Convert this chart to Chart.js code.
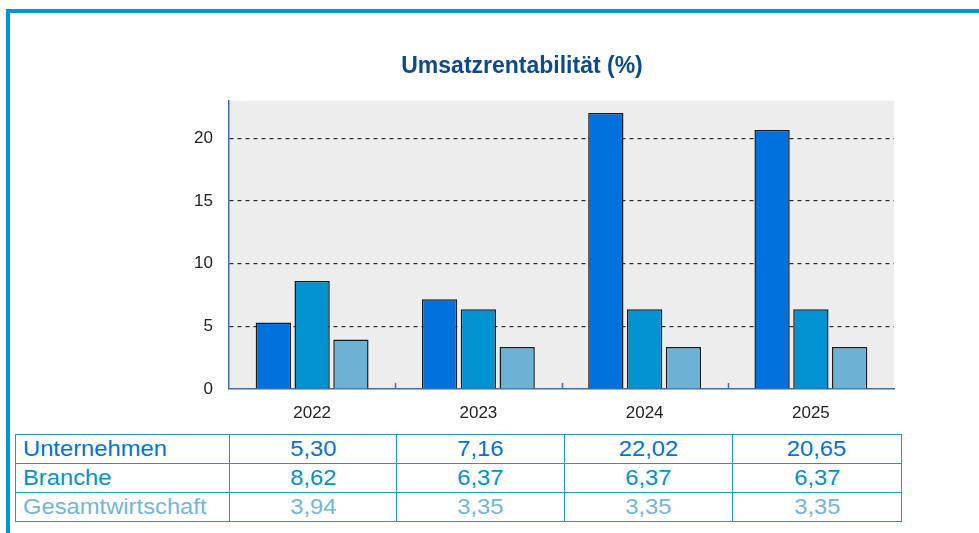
<!DOCTYPE html>
<html><head><meta charset="utf-8">
<script src="https://cdn.jsdelivr.net/npm/chart.js@4/dist/chart.umd.min.js"></script>
<style>
html,body{margin:0;padding:0;background:#fff;width:979px;height:533px;overflow:hidden;font-family:"Liberation Sans",Arial,sans-serif;}
#frame{position:absolute;left:6px;top:9px;width:980px;height:540px;border-left:4px solid #0096D6;border-top:4px solid #0096D6;box-sizing:border-box;}
#wrap{position:absolute;left:150px;top:20px;width:750px;height:410px;}
table{position:absolute;left:15px;top:434px;border-collapse:collapse;font-size:22px;table-layout:fixed;width:886px;}
tr{height:29px;}
td{border:1.5px solid #1E96D6;padding:0 0 0 7px;line-height:26px;white-space:nowrap;overflow:visible;}
td.v{text-align:center;padding:0;}
td span{display:inline-block;transform:scaleX(1.08);}
td.n span{transform-origin:left center;}
</style></head>
<body>
<div id="frame"></div>
<div id="wrap"><canvas id="c" width="750" height="410"></canvas></div>
<table id="tbl"><colgroup><col style="width:214px"><col style="width:167px"><col style="width:168px"><col style="width:168px"><col style="width:169px"></colgroup></table>
<script>
const categories = ["2022","2023","2024","2025"];
const unternehmen = [5.30, 7.16, 22.02, 20.65];
const branche = [8.62, 6.37, 6.37, 6.37];
const gesamtwirtschaft = [3.94, 3.35, 3.35, 3.35];
const seriesNames = ["Unternehmen","Branche","Gesamtwirtschaft"];
const seriesColors = ["#0071DD","#0092D1","#6DB2D4"];
const textColors = ["#0071DD","#0092D1","#72B6D9"];
const yTicks = [0,5,10,15,20];

// table
const tbl = document.getElementById('tbl');
[unternehmen, branche, gesamtwirtschaft].forEach((arr, si) => {
  const tr = document.createElement('tr');
  const th = document.createElement('td');
  th.className = 'n';
  const s0 = document.createElement('span');
  s0.textContent = seriesNames[si];
  th.appendChild(s0);
  th.style.color = textColors[si];
  tr.appendChild(th);
  arr.forEach((v) => {
    const td = document.createElement('td');
    td.className = 'v';
    const s = document.createElement('span');
    s.textContent = v.toFixed(2).replace('.', ',');
    td.appendChild(s);
    td.style.color = textColors[si];
    tr.appendChild(td);
  });
  tbl.appendChild(tr);
});

const bgPlugin = {
  id: 'bg',
  beforeDraw(chart) {
    const {ctx, chartArea: a} = chart;
    ctx.save();
    ctx.fillStyle = '#EDEDED';
    ctx.fillRect(a.left, a.top, a.right - a.left, a.bottom - a.top);
    ctx.restore();
  },
  afterDraw(chart) {
    const {ctx, chartArea: a} = chart;
    const xs = chart.scales.x;
    ctx.save();
    ctx.strokeStyle = '#3D6FA8';
    ctx.lineWidth = 1.5;
    for (let i = 1; i < categories.length; i++) {
      const x = Math.round((xs.getPixelForValue(i - 1) + xs.getPixelForValue(i)) / 2) + 0.5;
      ctx.beginPath();
      ctx.moveTo(x, a.bottom);
      ctx.lineTo(x, a.bottom - 6);
      ctx.stroke();
    }
    ctx.restore();
  }
};

new Chart(document.getElementById('c'), {
  type: 'bar',
  data: {
    labels: categories,
    datasets: [unternehmen, branche, gesamtwirtschaft].map((d, i) => ({
      label: seriesNames[i],
      data: d,
      backgroundColor: seriesColors[i],
      borderColor: '#1A1A1A',
      borderWidth: 1.5,
      borderSkipped: 'bottom',
      categoryPercentage: 0.70,
      barPercentage: 0.91
    }))
  },
  options: {
    responsive: false,
    animation: false,
    layout: { padding: { left: 0, right: 6, top: 0, bottom: 0 } },
    plugins: {
      legend: { display: false },
      tooltip: { enabled: false },
      title: {
        display: true,
        text: 'Umsatzrentabilität (%)',
        color: '#0B4A8C',
        font: { family: '"Liberation Sans", Arial, sans-serif', size: 23, weight: 'bold' },
        padding: { top: 33, bottom: 20 }
      }
    },
    scales: {
      x: {
        grid: { display: false, drawTicks: false },
        border: { display: true, color: '#3D6FA8', width: 1.5 },
        ticks: { color: '#222', font: { family: '"Liberation Sans", Arial, sans-serif', size: 17 }, padding: 14 },
        afterFit(s) { s.height = 41; }
      },
      y: {
        min: 0, max: 23,
        afterBuildTicks(s) { s.ticks = yTicks.map(v => ({ value: v })); },
        grid: {
          color: (c) => c.tick && c.tick.value === 0 ? 'rgba(0,0,0,0)' : '#2A2A2A',
          lineWidth: 1.2,
          drawTicks: false
        },
        border: { display: true, color: '#3D6FA8', width: 1.5, dash: [4, 4], dashOffset: 0 },
        ticks: { color: '#222', font: { family: '"Liberation Sans", Arial, sans-serif', size: 17 }, padding: 16 },
        afterFit(s) { s.width = 79; }
      }
    }
  },
  plugins: [bgPlugin]
});
</script>
</body></html>
